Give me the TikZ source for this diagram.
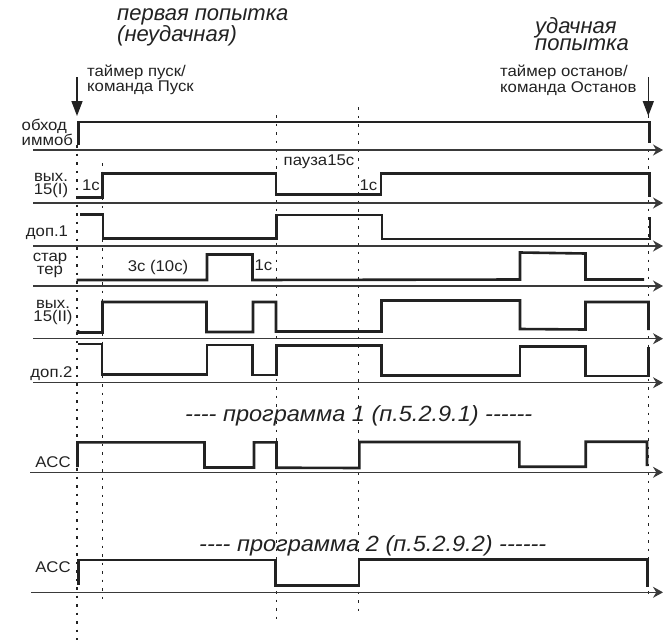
\documentclass[tikz,border=0pt]{standalone}
\usepackage{fontspec}
\setmainfont{Liberation Sans}
\newfontfamily\lblfont[FakeStretch=1.08]{Liberation Sans}
\newfontfamily\prgfont[FakeStretch=1.07]{Liberation Sans Italic}
\usetikzlibrary{arrows.meta}
\definecolor{sigc}{HTML}{222222}
\definecolor{axc}{HTML}{3A3A3A}
\definecolor{txt}{HTML}{222222}
\begin{document}
\begin{tikzpicture}[x=1pt,y=-1pt,
  sig/.style={line width=2.6pt, draw=sigc, line join=miter},
  axisline/.style={line width=1.1pt, draw=axc, -{Stealth[length=10pt,width=11pt]}},
  vdot/.style={line width=1.2pt, draw=sigc, dash pattern=on 2.5pt off 6pt},
  marker/.style={line width=1.6pt, draw=sigc, -{Triangle[length=15pt,width=11pt]}},
  lbl/.style={font=\lblfont\fontsize{15.5}{13}\selectfont, text=txt, inner sep=0pt},
  ttl/.style={font=\itshape\fontsize{22}{16}\selectfont, text=txt, inner sep=0pt},
  prg/.style={font=\prgfont\fontsize{22}{16}\selectfont, text=txt, inner sep=0pt},
]
\useasboundingbox (0,0) rectangle (663,640);

% vertical dotted time marks
\draw[vdot] (77,145) -- (77,640);
\draw[vdot] (102.3,163) -- (102.3,603);
\draw[vdot] (276.3,115) -- (276.3,622);
\draw[vdot] (358.8,107) -- (358.8,613);
\draw[vdot] (648.3,115) -- (648.3,598);

% axes
\foreach \yy in {150,203,246,286,338.7,382.7}
  \draw[axisline] (33,\yy) -- (663,\yy);
\draw[axisline] (30,472.3) -- (663,472.3);
\draw[axisline] (31,592.3) -- (663,592.3);

% start / stop markers
\draw[marker] (77,77) -- (77,116);
\draw[marker] (648.3,77) -- (648.3,116);

% signals
\draw[sig] (78.5,145) -- (78.5,122) -- (649.5,122) -- (649.5,143);
\draw[sig] (78,197.5) -- (102.5,197.5) -- (102.5,173.5) -- (276,173.5) -- (276,194.5) -- (381,194.5) -- (381,173.5) -- (649.5,173.5) -- (649.5,197);
\draw[sig] (80,214.5) -- (103,214.5) -- (103,238.5) -- (276.5,238.5) -- (276.5,215) -- (382,215) -- (382,239) -- (650,239) -- (650,216.5);
\draw[sig] (76.5,280) -- (207,280) -- (207,254.5) -- (252.5,254.5) -- (252.5,280) -- (520,279.5) -- (520,252.5) -- (585.5,253.5) -- (585.5,279.5) -- (644,279.5);
\draw[sig] (78,330) -- (78,332.5) -- (102.5,332.5) -- (102.5,302) -- (206.5,302) -- (206.5,332) -- (253,332) -- (253,302) -- (276,302) -- (276,331.5) -- (381.5,331.5) -- (381.5,300.5) -- (520,300.5) -- (520,329) -- (585.5,329.5) -- (585.5,302) -- (648.5,302) -- (648.5,330);
\draw[sig] (78,344) -- (102,344) -- (102,374.5) -- (207,374.5) -- (207,345) -- (252.5,345) -- (252.5,375) -- (276.5,375) -- (276.5,345.5) -- (381.5,345.5) -- (381.5,375.5) -- (520,375.5) -- (520,346.5) -- (585.5,346.5) -- (585.5,376) -- (648.5,376) -- (648.5,347);
\draw[sig] (77.5,467) -- (77.5,442.3) -- (204.5,442.3) -- (204.5,467.5) -- (254,467.5) -- (254,442.3) -- (276.5,442.3) -- (276.5,467.7) -- (359.3,468) -- (359.3,442) -- (519.3,442) -- (519.3,466.7) -- (585.7,466.7) -- (585.7,441.7) -- (647,441.7) -- (647,466);
\draw[sig] (78.7,585) -- (78.7,560) -- (275.3,560) -- (275.3,585.7) -- (359,585.7) -- (359,559.3) -- (647.3,559.3) -- (647.3,587);

% titles (base anchor = last line baseline)
\node[ttl, anchor=base west, align=left] (t1) at (117,41.7) {первая попытка\\(неудачная)};
\node[ttl, font=\itshape\fontsize{22}{17.4}\selectfont, anchor=base west, align=left] (t2) at (535,50.7) {удачная\\попытка};
\node[lbl, anchor=base west, align=left] (m1) at (87,91.7) {таймер пуск/\\команда Пуск};
\node[lbl, anchor=base west, align=left] (m2) at (500,92) {таймер останов/\\команда Останов};

% row labels
\node[lbl, anchor=base west, align=left] (r1) at (21.5,145.5) {обход\\иммоб};
\node[lbl, anchor=base, align=center] (r2) at (51,194) {вых.\\15(I)};
\node[lbl, anchor=base] (r3) at (47,236) {доп.1};
\node[lbl, anchor=base, align=center] (r4) at (50,274) {стар\\тер};
\node[lbl, anchor=base, align=center] (r5) at (53,321) {вых.\\15(II)};
\node[lbl, anchor=base] (r6) at (51.5,377) {доп.2};
\node[lbl, anchor=base] (r7) at (53,467) {ACC};
\node[lbl, anchor=base] (r8) at (53,572) {ACC};

% timing labels
\node[lbl, anchor=base] (d1) at (91,190.5) {1с};
\node[lbl, anchor=base] (d2) at (319,165.5) {пауза15с};
\node[lbl, anchor=base] (d3) at (368.5,190.5) {1с};
\node[lbl, anchor=base] (d4) at (158,271) {3с (10с)};
\node[lbl, anchor=base] (d5) at (263.5,270.5) {1с};

% programme captions
\node[prg, anchor=base west] (p1) at (185,421.7) {---- программа 1 (п.5.2.9.1) ------};
\node[prg, anchor=base west] (p2) at (199,551) {---- программа 2 (п.5.2.9.2) ------};
\end{tikzpicture}
\end{document}
